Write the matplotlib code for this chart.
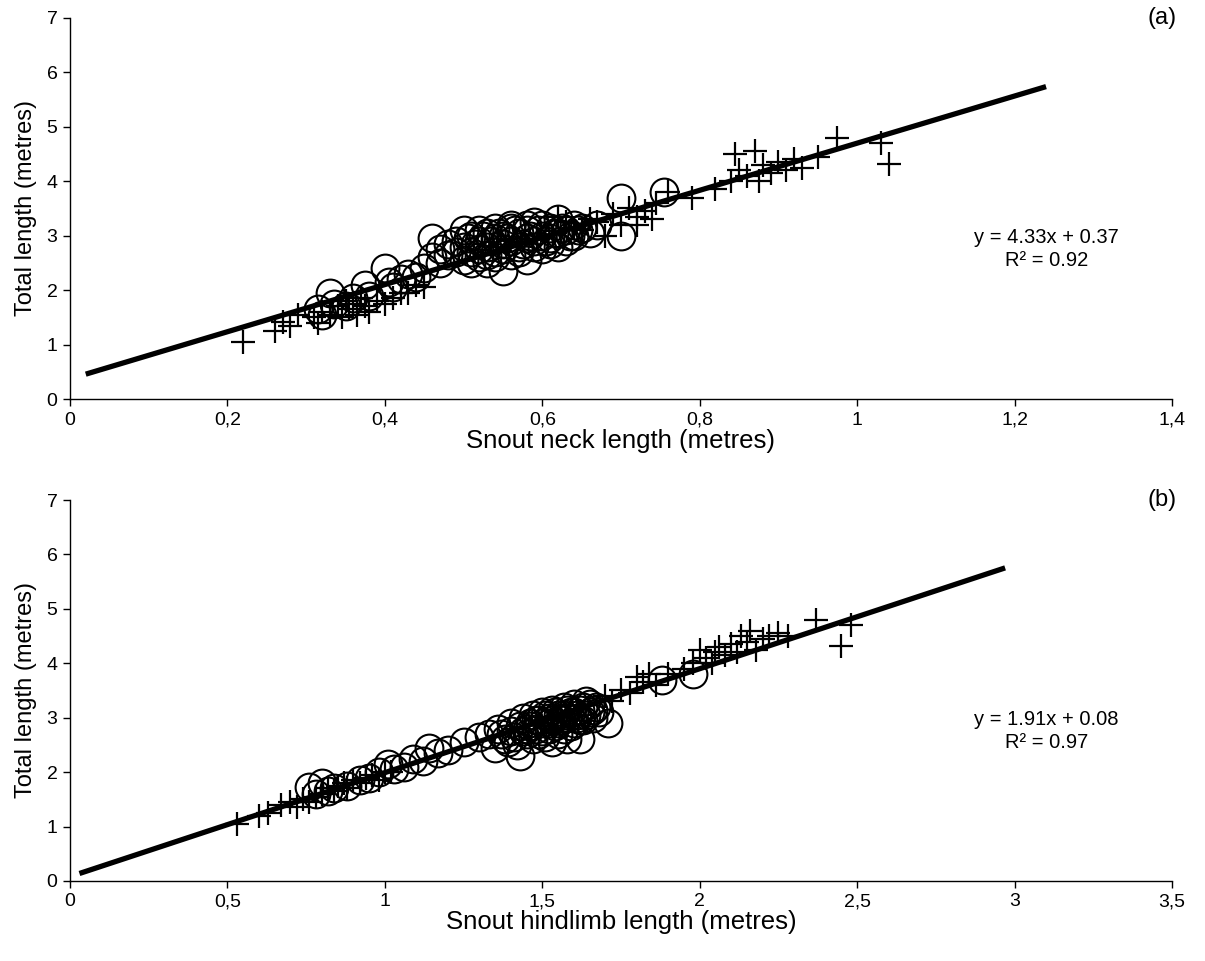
import matplotlib
matplotlib.use("Agg")
import matplotlib.pyplot as plt
from matplotlib.ticker import FuncFormatter, MultipleLocator

plt.rcParams['font.family'] = ['Liberation Sans', 'DejaVu Sans']

# ---------------- Panel (a): snout-neck length vs total length ----------------
a_circ_x = [0.315, 0.32, 0.33, 0.335, 0.35, 0.36, 0.375, 0.38, 0.40, 0.405, 0.41, 0.42, 0.43, 0.44, 0.45,
            0.46, 0.46, 0.47, 0.47, 0.48, 0.48, 0.49, 0.49, 0.50, 0.50, 0.50, 0.51, 0.51, 0.51, 0.52,
            0.52, 0.52, 0.53, 0.53, 0.53, 0.54, 0.54, 0.54, 0.55, 0.55, 0.55, 0.56, 0.56, 0.56, 0.57,
            0.57, 0.58, 0.58, 0.58, 0.59, 0.59, 0.60, 0.60, 0.61, 0.61, 0.62, 0.62, 0.62, 0.63, 0.63,
            0.64, 0.64, 0.65, 0.66, 0.67, 0.70, 0.70, 0.755,
            0.505, 0.515, 0.525, 0.535, 0.545, 0.555, 0.565, 0.575, 0.585, 0.595, 0.605, 0.615, 0.625,
            0.635, 0.645, 0.53, 0.55, 0.57, 0.59, 0.61, 0.56, 0.58, 0.60, 0.52, 0.54]
a_circ_y = [1.65, 1.55, 1.95, 1.75, 1.70, 1.85, 2.10, 1.90, 2.40, 2.15, 2.05, 2.20, 2.30, 2.25, 2.40,
            2.95, 2.60, 2.75, 2.50, 2.85, 2.65, 2.90, 2.70, 3.10, 2.80, 2.55, 3.00, 2.70, 2.50, 3.10,
            2.90, 2.60, 3.05, 2.80, 2.50, 3.15, 2.95, 2.70, 3.00, 2.85, 2.35, 3.20, 2.90, 2.65, 3.05,
            2.80, 3.10, 2.95, 2.55, 3.25, 2.90, 3.00, 2.75, 3.15, 2.95, 3.30, 3.05, 2.80, 3.10, 2.90,
            3.20, 3.00, 3.15, 3.05, 3.20, 3.70, 3.00, 3.80,
            2.95, 2.85, 3.00, 2.90, 3.05, 2.95, 3.10, 2.85, 3.00, 3.10, 2.90, 3.05, 3.15,
            3.00, 3.10, 2.65, 2.75, 2.70, 2.80, 2.85, 3.15, 3.20, 3.20, 2.75, 2.60]
a_plus_x = [0.22, 0.26, 0.27, 0.28, 0.29, 0.31, 0.315, 0.32, 0.33, 0.34, 0.345, 0.35, 0.355, 0.36,
            0.365, 0.37, 0.375, 0.38, 0.39, 0.40, 0.41, 0.42, 0.43, 0.44, 0.45,
            0.62, 0.63, 0.64, 0.65, 0.66, 0.67, 0.68, 0.69, 0.70, 0.71, 0.72, 0.72, 0.73, 0.74, 0.745,
            0.76, 0.79, 0.82, 0.84, 0.845, 0.85, 0.86, 0.87, 0.875, 0.88, 0.89, 0.90, 0.91, 0.92,
            0.93, 0.95, 0.975, 1.03, 1.04]
a_plus_y = [1.05, 1.25, 1.42, 1.35, 1.55, 1.50, 1.40, 1.60, 1.55, 1.70, 1.50, 1.80, 1.65, 1.75,
            1.55, 1.85, 1.70, 1.60, 1.80, 1.75, 1.85, 1.95, 1.95, 2.10, 2.05,
            3.35, 3.25, 3.15, 3.10, 3.30, 3.25, 3.00, 3.40, 3.20, 3.50, 3.35, 3.20, 3.45, 3.30, 3.60,
            3.80, 3.70, 3.85, 4.00, 4.50, 4.20, 4.10, 4.55, 4.00, 4.30, 4.15, 4.35, 4.20, 4.40,
            4.25, 4.45, 4.80, 4.70, 4.32]
a_slope, a_icpt, a_r2 = 4.33, 0.37, 0.92
a_line_x = [0.02, 1.24]

# ---------------- Panel (b): snout-hindlimb length vs total length ----------------
b_circ_x = [0.76, 0.78, 0.80, 0.82, 0.84, 0.88, 0.92, 0.95, 0.98, 1.01, 1.03, 1.06, 1.09, 1.12, 1.14,
            1.17, 1.20, 1.25, 1.30, 1.33, 1.35, 1.36, 1.38, 1.40, 1.40, 1.42, 1.43, 1.43, 1.44, 1.45,
            1.46, 1.47, 1.47, 1.48, 1.49, 1.50, 1.50, 1.51, 1.52, 1.52, 1.53, 1.53, 1.54, 1.55, 1.55,
            1.56, 1.57, 1.57, 1.58, 1.58, 1.59, 1.60, 1.60, 1.61, 1.62, 1.62, 1.63, 1.64, 1.65, 1.66,
            1.67, 1.68, 1.71, 1.88, 1.98,
            1.41, 1.44, 1.46, 1.48, 1.50, 1.51, 1.53, 1.54, 1.56, 1.58, 1.59, 1.61, 1.63, 1.64, 1.66,
            1.49, 1.52, 1.55, 1.57, 1.60, 1.45, 1.62, 1.65, 1.39, 1.37]
b_circ_y = [1.72, 1.60, 1.80, 1.65, 1.70, 1.75, 1.85, 1.90, 2.00, 2.15, 2.05, 2.10, 2.25, 2.20, 2.45,
            2.35, 2.40, 2.55, 2.65, 2.70, 2.45, 2.80, 2.60, 2.75, 2.90, 2.50, 2.30, 2.85, 3.00, 2.70,
            2.90, 2.60, 3.05, 2.80, 2.95, 3.10, 2.75, 2.65, 2.90, 3.00, 2.55, 3.15, 2.85, 3.05, 2.70,
            2.95, 3.20, 2.80, 2.60, 3.00, 3.10, 2.90, 3.25, 3.05, 2.60, 3.15, 2.95, 3.30, 3.10, 3.00,
            3.20, 3.10, 2.90, 3.70, 3.80,
            2.65, 2.75, 2.85, 2.95, 2.90, 3.05, 2.95, 3.10, 3.00, 3.15, 2.85, 3.00, 3.20, 3.05, 3.15,
            2.70, 2.80, 2.90, 3.05, 3.10, 2.80, 2.95, 3.25, 2.55, 2.70]
b_plus_x = [0.53, 0.60, 0.63, 0.67, 0.70, 0.72, 0.74, 0.76, 0.78, 0.80, 0.82, 0.84, 0.85, 0.87,
            0.88, 0.90, 0.92, 0.94, 0.96, 0.98, 1.00, 1.02,
            1.70, 1.72, 1.75, 1.78, 1.80, 1.82, 1.84, 1.86, 1.90, 1.95, 1.98, 2.00, 2.02, 2.04, 2.05,
            2.06, 2.08, 2.10, 2.12, 2.13, 2.15, 2.16, 2.18, 2.20, 2.22, 2.25, 2.28, 2.37, 2.45, 2.48]
b_plus_y = [1.05, 1.20, 1.25, 1.40, 1.45, 1.35, 1.50, 1.45, 1.55, 1.60, 1.70, 1.65, 1.75, 1.80,
            1.70, 1.85, 1.80, 1.90, 1.95, 1.85, 2.00, 2.00,
            3.40, 3.30, 3.50, 3.45, 3.75, 3.65, 3.80, 3.60, 3.80, 3.90, 4.00, 4.25, 4.10, 4.00, 4.20,
            4.30, 4.15, 4.35, 4.20, 4.50, 4.40, 4.60, 4.25, 4.45, 4.50, 4.55, 4.50, 4.80, 4.32, 4.70]
b_slope, b_icpt, b_r2 = 1.91, 0.08, 0.97
b_line_x = [0.03, 2.97]

comma_fmt = FuncFormatter(lambda v, p: ('%g' % round(v, 3)).replace('.', ','))

fig = plt.figure(figsize=(12.05, 9.61), dpi=100)
ax1 = fig.add_axes([0.0581, 0.5848, 0.9145, 0.3965])
ax2 = fig.add_axes([0.0581, 0.0833, 0.9145, 0.3964])

panels = [
    (ax1, a_circ_x, a_circ_y, a_plus_x, a_plus_y, a_slope, a_icpt, a_r2, a_line_x,
     (0, 1.4), 0.2, 'Snout neck length (metres)', '(a)'),
    (ax2, b_circ_x, b_circ_y, b_plus_x, b_plus_y, b_slope, b_icpt, b_r2, b_line_x,
     (0, 3.5), 0.5, 'Snout hindlimb length (metres)', '(b)'),
]

for (ax, cx, cy, px, py, s, b, r2, lx, xlim, xstep, xlabel, tag) in panels:
    ax.plot(cx, cy, linestyle='none', marker='o', ms=20, mfc='none', mec='black', mew=1.5, zorder=2)
    ax.plot(px, py, linestyle='none', marker='+', ms=17, mec='black', mew=1.6, zorder=3)
    ly = [s * xv + b for xv in lx]
    ax.plot(lx, ly, color='black', lw=3.8, solid_capstyle='butt', zorder=4)
    ax.set_xlim(*xlim)
    ax.set_ylim(0, 7)
    ax.xaxis.set_major_locator(MultipleLocator(xstep))
    ax.yaxis.set_major_locator(MultipleLocator(1))
    ax.xaxis.set_major_formatter(comma_fmt)
    for sp in ['top', 'right']:
        ax.spines[sp].set_visible(False)
    for sp in ['left', 'bottom']:
        ax.spines[sp].set_linewidth(1.0)
    ax.tick_params(axis='both', direction='out', length=5, width=1, labelsize=14, pad=4)
    ax.set_xlabel(xlabel, fontsize=18.5, labelpad=0)
    ax.set_ylabel('Total length (metres)', fontsize=17, labelpad=7)
    ax.text(0.886, 0.394, 'y = %.2fx + %.2f\nR² = %.2f' % (s, b, r2), transform=ax.transAxes,
            ha='center', va='center', fontsize=14.5, linespacing=1.25)
    ax.text(1.004, 1.0, tag, transform=ax.transAxes, ha='right', va='center', fontsize=17)

fig.savefig('out.png', dpi=100)
